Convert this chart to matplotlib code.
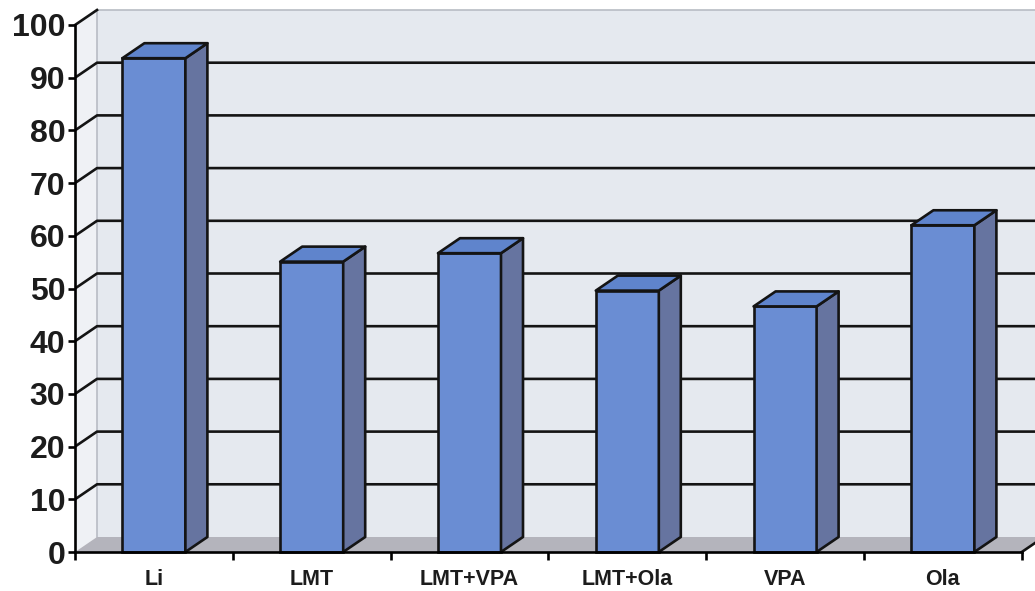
import matplotlib
matplotlib.use("Agg")
import matplotlib.pyplot as plt
from matplotlib.patches import Polygon, Rectangle

# Data
categories = ["Li", "LMT", "LMT+VPA", "LMT+Ola", "VPA", "Ola"]
values = [93.7, 55.1, 56.7, 49.6, 46.6, 62.0]
yticks = list(range(0, 101, 10))

# Styling
front_col = "#6a8dd3"
top_col = "#5f84cc"
side_col = "#6674a0"
back_wall_col = "#e5e9ef"
side_wall_col = "#eff1f5"
floor_col = "#b4b4bc"
edge = "#141414"
lw = 1.9

W, H, DPI = 1035, 591, 100
px_per_cat = 157.8
px_per_unit = 5.27
left_px = 75
zero_px_from_bottom = 39

fig = plt.figure(figsize=(W / DPI, H / DPI), dpi=DPI)
ax = fig.add_axes([left_px / W, 0, 1 - left_px / W, 1])
xmin = -0.5
xmax = xmin + (W - left_px) / px_per_cat
ymin = -zero_px_from_bottom / px_per_unit
ymax = (H - zero_px_from_bottom) / px_per_unit
ax.set_xlim(xmin, xmax)
ax.set_ylim(ymin, ymax)

# depth offset of the 3-D box, in data units
ddx = 22 / px_per_cat
ddy = 15 / px_per_unit
top = yticks[-1]
n = len(categories)

# walls and floor
ax.add_patch(Polygon([(xmin, 0), (xmin + ddx, ddy), (xmin + ddx, top + ddy), (xmin, top)],
                     closed=True, facecolor=side_wall_col, edgecolor="none", zorder=1))
ax.add_patch(Rectangle((xmin + ddx, ddy), xmax - xmin, top, facecolor=back_wall_col,
                       edgecolor="none", zorder=1))
ax.plot([xmin + ddx, xmin + ddx, xmax], [ddy, top + ddy, top + ddy], color="#b8bcc4",
        lw=1.2, zorder=1.5)
ax.add_patch(Polygon([(xmin, 0), (n - 0.5, 0), (n - 0.5 + ddx, ddy), (xmin + ddx, ddy)],
                     closed=True, facecolor=floor_col, edgecolor="none", zorder=2))
ax.plot([n - 0.5, n - 0.5 + ddx], [0, ddy], color=edge, lw=lw, zorder=2.5, clip_on=False)
ax.plot([xmin, xmin + ddx], [top, top + ddy], color=edge, lw=lw, zorder=2.5, clip_on=False)

# gridlines: diagonal on side wall, horizontal on back wall
for v in yticks[1:-1]:
    ax.plot([xmin, xmin + ddx, xmax], [v, v + ddy, v + ddy], color=edge, lw=lw, zorder=2)

# bars
bw = 63 / px_per_cat
xs = list(range(n))
ax.bar(xs, values, width=bw, color=front_col, edgecolor=edge, linewidth=lw, zorder=4)
for x, v in zip(xs, values):
    l, r = x - bw / 2, x + bw / 2
    ax.add_patch(Polygon([(r, 0), (r + ddx, ddy), (r + ddx, v + ddy), (r, v)], closed=True,
                         facecolor=side_col, edgecolor=edge, linewidth=lw, zorder=4,
                         joinstyle="round"))
    ax.add_patch(Polygon([(l, v), (r, v), (r + ddx, v + ddy), (l + ddx, v + ddy)], closed=True,
                         facecolor=top_col, edgecolor=edge, linewidth=lw, zorder=4,
                         joinstyle="round"))

# axes
for s in ("top", "right"):
    ax.spines[s].set_visible(False)
ax.spines["left"].set_bounds(0, top)
ax.spines["left"].set_linewidth(lw)
ax.spines["left"].set_zorder(6)
ax.spines["bottom"].set_position(("data", 0))
ax.spines["bottom"].set_bounds(-0.5, n - 0.5)
ax.spines["bottom"].set_linewidth(lw)
ax.spines["bottom"].set_zorder(6)

ax.set_yticks(yticks)
ax.set_yticklabels([str(t) for t in yticks], fontfamily="Liberation Sans",
                   fontweight="bold", fontsize=23, color="#1c1c1c")
ax.tick_params(axis="y", length=5, width=lw, pad=2)

ax.set_xticks([i - 0.5 for i in range(n + 1)])
ax.set_xticklabels([])
ax.tick_params(axis="x", which="major", direction="out", length=6, width=lw)
ax.set_xticks(xs, minor=True)
ax.set_xticklabels(categories, minor=True, fontfamily="Liberation Sans",
                   fontweight="bold", fontsize=15.5, color="#1c1c1c")
ax.tick_params(axis="x", which="minor", length=0, pad=12)

fig.savefig("out.png", dpi=DPI, facecolor="white")
